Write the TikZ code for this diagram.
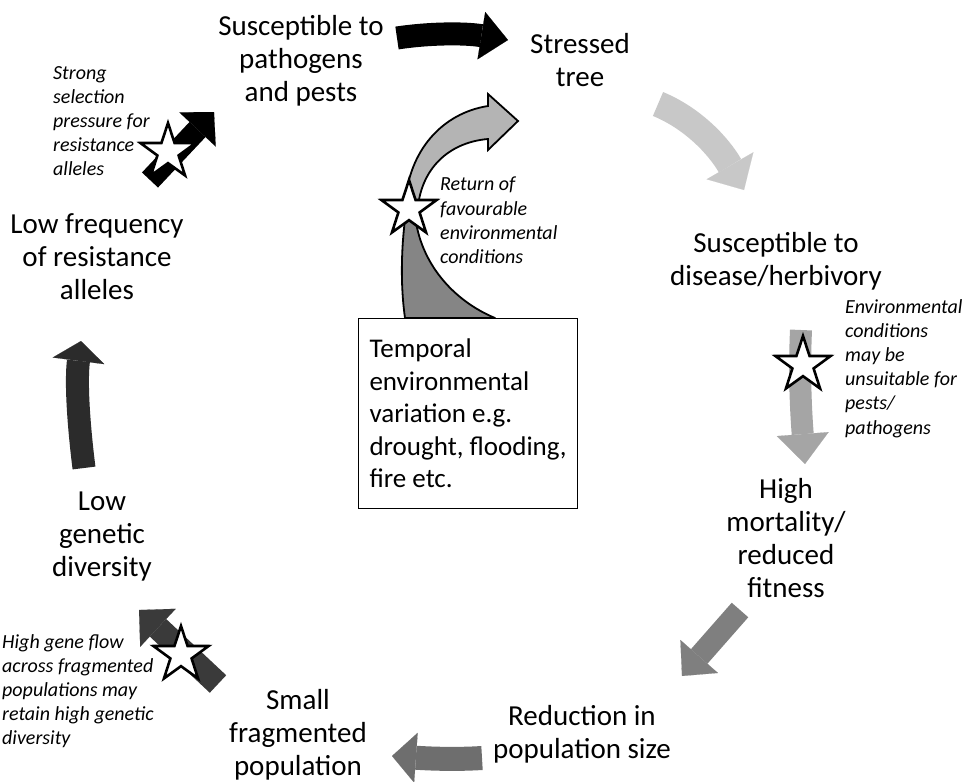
\documentclass[tikz,border=0pt]{standalone}
\usepackage{fontspec}
\setmainfont{Carlito}
\usetikzlibrary{arrows.meta,shapes.geometric}
\definecolor{cA}{HTML}{C8C8C8}
\definecolor{cB}{HTML}{A5A5A5}
\definecolor{cC}{HTML}{7F7F7F}
\definecolor{cD}{HTML}{6E6E6E}
\definecolor{cE}{HTML}{3A3A3A}
\definecolor{cF}{HTML}{2B2B2B}
\definecolor{cUp}{HTML}{B4B4B4}
\definecolor{cLo}{HTML}{858585}
\begin{document}
\begin{tikzpicture}[x=1pt,y=-1pt,
  lbl/.style={align=center, font=\fontsize{29}{33}\selectfont, inner sep=0pt},
  note/.style={align=left, font=\fontsize{20}{24.2}\selectfont\itshape, inner sep=0pt, anchor=north west},
  starmark/.style={star, star points=5, star point ratio=2.6, draw=black, line width=2.6pt, fill=white, minimum size=58pt, inner sep=0pt},
  fat/.style n args={4}{draw=#1, line width=#2, line cap=butt, -{Triangle[length=#4, width=#3, line width=0.1pt, fill=#1, color=#1]}}
]
\useasboundingbox (0,0) rectangle (967,782);

% main labels
\node[lbl] (sp) at (301,60.5) {Susceptible to\\pathogens\\and pests};
\node[lbl] (st) at (580,60) {Stressed\\tree};
\node[lbl] (sd) at (776,261) {Susceptible to\\disease/herbivory};
\node[lbl] (hm) at (786,538) {High\\mortality/\\reduced\\fitness};
\node[lbl] (rp) at (582,734) {Reduction in\\population size};
\node[lbl] (sf) at (298,735) {Small\\fragmented\\population};
\node[lbl] (lg) at (102,537) {Low\\genetic\\diversity};
\node[lbl] (lf) at (97,257) {Low frequency\\of resistance\\alleles};

% annotations
\node[note] (n1) at (53,66) {Strong\\selection\\pressure for\\resistance\\alleles};
\node[note] (n2) at (440,177) {Return of\\favourable\\environmental\\conditions};
\node[note] (n3) at (845,299) {Environmental\\conditions\\may be\\unsuitable for\\pests/\\pathogens};
\node[note] (n4) at (2,634) {High gene flow\\across fragmented\\populations may\\retain high genetic\\diversity};

% arrow end points
\coordinate (a1s) at (397,38);  \coordinate (a1e) at (508,40);
\coordinate (a2s) at (658,104); \coordinate (a2e) at (744,190);
\coordinate (a3s) at (801,330); \coordinate (a3e) at (805,464);
\coordinate (a4s) at (740,610); \coordinate (a4e) at (682,676);
\coordinate (a5s) at (482,758); \coordinate (a5e) at (392,756);
\coordinate (a6s) at (218,684); \coordinate (a6e) at (139,610);
\coordinate (a7s) at (84,468);  \coordinate (a7e) at (81,341);
\coordinate (a8s) at (150,180); \coordinate (a8e) at (214,112);

\draw[fat={black}{23pt}{48pt}{27pt}] (a1s) .. controls (430,33) and (465,33) .. (a1e);
\draw[fat={cA}{26pt}{54pt}{28pt}] (a2s) .. controls (692,118) and (718,145) .. (a2e);
\draw[fat={cB}{22pt}{52pt}{30pt}] (a3s) .. controls (799,375) and (801,412) .. (a3e);
\draw[fat={cC}{22pt}{50pt}{26pt}] (a4s) -- (a4e);
\draw[fat={cD}{24pt}{50pt}{24pt}] (a5s) .. controls (450,760) and (420,758) .. (a5e);
\draw[fat={cE}{24pt}{52pt}{26pt}] (a6s) -- (a6e);
\draw[fat={cF}{23pt}{52pt}{20pt}] (a7s) .. controls (78,420) and (76,380) .. (a7e);
\draw[fat={black}{22pt}{50pt}{24pt}] (a8s) -- (a8e);

% central curved arrow
\coordinate (cbase) at (405,318);
\coordinate (ctip) at (518,121);
\filldraw[fill=cLo, draw=black, line width=1.8pt, line join=round]
  (407,205) .. controls (400,250) and (401,290) .. (cbase)
  -- (495,318) .. controls (452,300) and (420,262) .. (415,215) -- cycle;
\filldraw[fill=cUp, draw=black, line width=1.8pt, line join=miter]
  (405,206) .. controls (408,150) and (443,113) .. (488,106)
  -- (488,94) -- (ctip) -- (488,150) -- (488,139)
  .. controls (452,142) and (423,165) .. (418,206) -- cycle;

% box
\node[draw=black, fill=white, line width=1.3pt, anchor=north west, minimum width=219pt, minimum height=190pt, align=left, inner sep=0pt, font=\fontsize{27}{32.5}\selectfont] (box) at (358,318) {Temporal\\environmental\\variation e.g.\\drought, flooding,\\fire etc.};

% stars
\node[starmark] (s1) at (168,152) {};
\node[starmark] (s2) at (409,209) {};
\node[starmark] (s3) at (803,365) {};
\node[starmark] (s4) at (181,655) {};
\end{tikzpicture}
\end{document}
